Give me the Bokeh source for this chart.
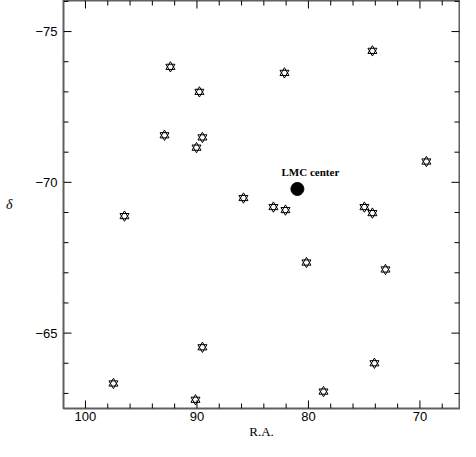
from bokeh.plotting import figure
from bokeh.models import Range1d, SingleIntervalTicker, CustomJSTickFormatter
from bokeh.core.properties import value
from bokeh.embed import file_html
from bokeh.resources import INLINE

# Star positions (R.A., Dec)
star_ra = [92.38, 74.26, 89.78, 82.15, 92.91, 89.51, 90.04, 69.42, 85.83, 83.14,
           82.06, 74.98, 74.26, 96.50, 80.18, 73.09, 89.51, 74.08, 97.49, 78.65, 90.13]
star_dec = [-73.83, -74.36, -73.00, -73.63, -71.56, -71.49, -71.15, -70.69, -69.48, -69.18,
            -69.08, -69.18, -68.98, -68.88, -67.34, -67.11, -64.53, -64.00, -63.33, -63.06, -62.79]

lmc_ra = [80.99]
lmc_dec = [-69.78]
lmc_label = ["LMC center"]

x_major = [100, 90, 80, 70]
x_minor = [t for t in range(68, 102, 2) if t % 10 != 0]
y_major = [-75, -70, -65]
y_minor = [t for t in range(-76, -62) if t % 5 != 0]

W, H = 460, 441
FW, FH = 396, 406          # approximate frame size (for tick lengths)
X0, X1 = 101.97, 66.45
Y0, Y1 = -62.5, -76.03

p = figure(width=W, height=H, output_backend="svg", toolbar_location=None,
           title=None, x_range=Range1d(X0, X1), y_range=Range1d(Y0, Y1),
           min_border_left=63, min_border_right=1, min_border_top=0, min_border_bottom=30)

p.xgrid.visible = False
p.ygrid.visible = False
p.outline_line_color = "#606060"
p.outline_line_width = 2
p.background_fill_color = "white"
p.border_fill_color = "white"

fmt = CustomJSTickFormatter(code="return tick < 0 ? '\u2212' + Math.abs(tick) : tick.toString();")

for ax in (p.xaxis[0], p.yaxis[0]):
    ax.axis_line_color = None
    ax.major_tick_in = 0
    ax.major_tick_out = 0
    ax.minor_tick_in = 0
    ax.minor_tick_out = 0
    ax.major_label_text_font = "Liberation Sans"
    ax.major_label_text_font_size = "13px"
    ax.major_label_text_color = "black"
    ax.formatter = fmt
p.xaxis.ticker = SingleIntervalTicker(interval=10, num_minor_ticks=5)
p.yaxis.ticker = SingleIntervalTicker(interval=5, num_minor_ticks=5)
p.xaxis.major_label_standoff = 3
p.yaxis.major_label_standoff = 6

p.xaxis.axis_label = "R.A."
p.xaxis.axis_label_text_font = "Liberation Serif"
p.xaxis.axis_label_text_font_style = "normal"
p.xaxis.axis_label_text_font_size = "13px"
p.xaxis.axis_label_text_color = "black"
p.xaxis.axis_label_standoff = 0

p.yaxis.axis_label = "δ"
p.yaxis.axis_label_text_font = "Liberation Serif"
p.yaxis.axis_label_text_font_style = "italic"
p.yaxis.axis_label_text_font_size = "14px"
p.yaxis.axis_label_text_color = "black"
p.yaxis.axis_label_standoff = 20
try:
    p.yaxis.axis_label_orientation = "horizontal"
except Exception:
    pass

# inward ticks on all four sides, drawn as short segments inside the frame
dx = (X0 - X1) / FW
dy = (Y0 - Y1) / FH
tick_col = "black"
for xs, L in ((x_major, 8), (x_minor, 5)):
    n = len(xs)
    p.segment(xs, [Y0] * n, xs, [Y0 - L * dy] * n, line_color=tick_col, line_width=1)
    p.segment(xs, [Y1] * n, xs, [Y1 + L * dy] * n, line_color=tick_col, line_width=1)
for ys, L in ((y_major, 8), (y_minor, 5)):
    n = len(ys)
    p.segment([X0] * n, ys, [X0 - L * dx] * n, ys, line_color=tick_col, line_width=1)
    p.segment([X1] * n, ys, [X1 + L * dx] * n, ys, line_color=tick_col, line_width=1)

# hexagram markers: two overlapping unfilled triangles
p.scatter(star_ra, star_dec, marker="triangle", size=9, fill_color=None,
          line_color="black", line_width=1)
p.scatter(star_ra, star_dec, marker="inverted_triangle", size=9, fill_color=None,
          line_color="black", line_width=1)

p.scatter(lmc_ra, lmc_dec, marker="circle", size=13, fill_color="black", line_color="black")
p.text(lmc_ra, lmc_dec, text=lmc_label, x_offset=13, y_offset=-17,
       text_align="center", text_baseline="alphabetic",
       text_font=value("Liberation Serif"), text_font_style="bold",
       text_font_size="11px", text_color="black")

open("out.html", "w").write(file_html(p, INLINE))
